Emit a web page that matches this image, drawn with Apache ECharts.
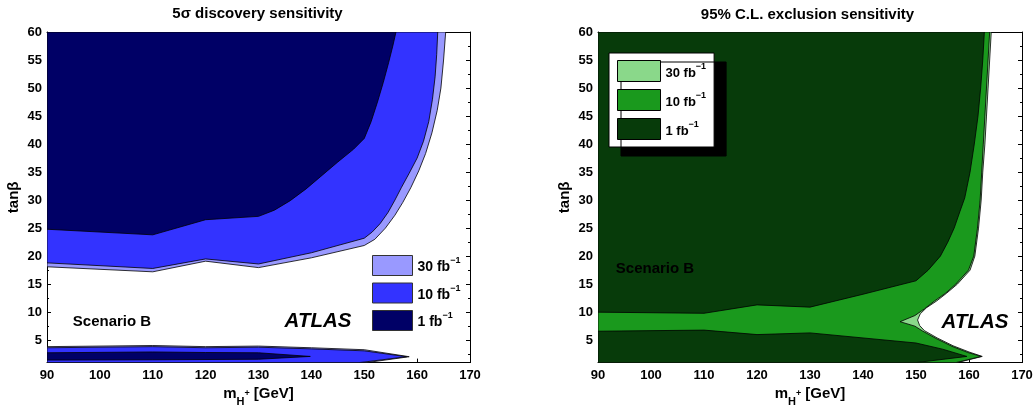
<!DOCTYPE html>
<html><head><meta charset="utf-8">
<script src="https://cdn.jsdelivr.net/npm/echarts@6/dist/echarts.min.js"></script>
<style>html,body{margin:0;padding:0;background:#fff}#c{width:1036px;height:412px}</style>
</head><body><div id="c"></div>
<script>
// ---------- data ----------
const lumiLabels = ['30', '10', '1'];
const xTicks = [90, 100, 110, 120, 130, 140, 150, 160, 170];
const yTicks = [5, 10, 15, 20, 25, 30, 35, 40, 45, 50, 55, 60];
const yMinorTicks = [2.5, 7.5, 12.5, 17.5, 22.5, 27.5, 32.5, 37.5, 42.5, 47.5, 52.5, 57.5];

// 5 sigma discovery contours [mH+, tanBeta]
const discUpper30 = [[90,60],[90,18.1],[110,17.2],[120,19.1],[130,17.95],[140,19.7],[150,21.9],[152,23],[154,25],[155.8,27.3],[157.3,29.6],[158.8,32.2],[160.3,35.2],[161.6,38.3],[162.8,42],[163.8,46],[164.5,50],[165,55],[165.4,60]];
const discUpper10 = [[90,60],[90,18.8],[110,17.8],[120,19.5],[130,18.6],[140,20.6],[150,23.2],[151.5,24.3],[153,25.8],[154.5,27.8],[155.8,30],[157,32.2],[158.5,34.8],[160,37.5],[161.2,40.5],[162.2,44],[162.9,48],[163.4,52],[163.7,56],[163.9,60]];
const discUpper1 = [[90,60],[90,24.8],[110,23.8],[120,26.5],[130,27.1],[133,28.2],[136,29.9],[139,32],[142,34.4],[145,36.8],[148,39.1],[150,41],[151.3,44],[152.5,47.5],[153.6,51],[154.6,54.5],[155.4,57.5],[156,60]];
const discLower30 = [[90,1],[90,3.85],[110,4.05],[120,3.85],[130,3.95],[140,3.65],[150,3.3],[158.5,2.05],[150.5,1]];
const discLower10 = [[90,1],[90,3.65],[110,3.85],[120,3.65],[130,3.75],[140,3.45],[150,3.1],[158,2.05],[150,1.1],[149,1]];
const discLower1 = [[90,1.45],[90,2.75],[110,2.9],[120,2.8],[130,2.75],[139.8,2.1],[130,1.6],[110,1.5]];

// 95% CL exclusion contours [mH+, tanBeta]
const exclRegion30 = [[90,1],[90,60],[164.2,60],[163.9,55],[163.6,50],[163.3,45],[163,40],[162.6,35],[162.3,30],[161.8,25],[161.1,20],[160.2,17.5],[157.8,15],[155.8,13.4],[153.9,12],[152,10.8],[150.8,9.7],[150.3,8.6],[150.7,7.6],[151.6,6.7],[154,5.4],[157,4],[160,2.9],[162.5,2.1],[157.8,1]];
const exclRegion10 = [[90,1],[90,60],[163.9,60],[163.6,55],[163.3,50],[163,45],[162.7,40],[162.4,35],[162.1,30],[161.6,25],[160.9,20],[159.9,17.5],[157.5,15],[155.6,13.4],[153.5,12],[151.6,10.6],[149.8,9.4],[147,8.3],[149.8,7.5],[151.3,6.6],[153.8,5.3],[156.8,3.9],[159.8,2.8],[162.3,2.1],[157.5,1]];
const exclUpper1 = [[90,60],[90,10],[110,9.8],[120,11.3],[130,10.9],[140,13.2],[150,15.6],[152.3,17.5],[154.6,20],[156,22.5],[157.2,25],[158.3,28],[159.2,30.4],[160.2,35],[161,40],[161.7,45],[162.2,50],[162.6,55],[162.9,60]];
const exclLower1 = [[90,1],[90,6.6],[110,6.8],[120,6.0],[130,6.3],[140,5.4],[150,4.5],[155,3.4],[159.6,2.1],[150,1]];

// ---------- chart ----------
const FONT = '"Liberation Sans", Arial, Helvetica, sans-serif';
const chart = echarts.init(document.getElementById('c'), null, {renderer: 'canvas'});

const discColors = ['#9999ff', '#3333ff', '#000066'];
const exclColors = ['#8ad88a', '#1a991d', '#073b0a'];
const discNames = lumiLabels.map(l => 'disc ' + l);
const exclNames = lumiLabels.map(l => 'excl ' + l);

function polySeries(name, polys, color, xi, yi) {
  const pts = [].concat(...polys);
  return {
    type: 'custom', name, xAxisIndex: xi, yAxisIndex: yi, silent: true, animation: false, clip: true,
    itemStyle: {color},
    encode: {x: 0, y: 1},
    data: pts,
    renderItem(params, api) {
      if (params.dataIndex !== 0) return;
      return {
        type: 'group',
        children: polys.map(poly => ({
          type: 'polygon',
          shape: {points: poly.map(p => api.coord(p))},
          style: {fill: color, stroke: '#000', lineWidth: 0.8}
        }))
      };
    }
  };
}

const axLine = {show: true, onZero: false, lineStyle: {color: '#000', width: 1}};
const xName = '{m|m}{s|H}{p|+}{m| [GeV]}';

function xAxes(g) {
  return [
    {gridIndex: g, type: 'value', min: 90, max: 170, position: 'bottom',
     axisLine: axLine,
     axisTick: {show: true, inside: true, length: 4, customValues: xTicks, lineStyle: {color: '#000'}},
     axisLabel: {customValues: xTicks, color: '#000', fontFamily: FONT, fontWeight: 'bold', fontSize: 13, margin: 6},
     splitLine: {show: false},
     name: xName, nameLocation: 'middle', nameGap: 15,
     nameTextStyle: {color: '#000', fontFamily: FONT, rich: {
       m: {fontSize: 15, fontWeight: 'bold', fontFamily: FONT, color: '#000', lineHeight: 26, verticalAlign: 'middle'},
       s: {fontSize: 11, fontWeight: 'bold', fontFamily: FONT, color: '#000', lineHeight: 12, verticalAlign: 'bottom'},
       p: {fontSize: 9, fontWeight: 'bold', fontFamily: FONT, color: '#000', lineHeight: 10, verticalAlign: 'middle'}
     }}},
    {gridIndex: g, type: 'value', min: 90, max: 170, position: 'top',
     axisLine: axLine,
     axisTick: {show: true, inside: true, length: 4, customValues: xTicks, lineStyle: {color: '#000'}},
     axisLabel: {show: false}, splitLine: {show: false}}
  ];
}

function yAxes(g) {
  const base = {gridIndex: g, type: 'value', min: 1, max: 60, splitLine: {show: false}, offset: 0};
  return [
    Object.assign({}, base, {position: 'left', axisLine: axLine,
      axisTick: {show: true, inside: true, length: 4, customValues: yTicks, lineStyle: {color: '#000'}},
      axisLabel: {customValues: yTicks, color: '#000', fontFamily: FONT, fontWeight: 'bold', fontSize: 13, margin: 5},
      name: 'tanβ', nameLocation: 'middle', nameRotate: 90, nameGap: 26,
      nameTextStyle: {color: '#000', fontFamily: FONT, fontWeight: 'bold', fontSize: 15}}),
    Object.assign({}, base, {position: 'left', axisLine: {show: false},
      axisTick: {show: true, inside: true, length: 2, customValues: yMinorTicks, lineStyle: {color: '#000'}},
      axisLabel: {show: false}}),
    Object.assign({}, base, {position: 'right', axisLine: axLine,
      axisTick: {show: true, inside: true, length: 4, customValues: yTicks, lineStyle: {color: '#000'}},
      axisLabel: {show: false}}),
    Object.assign({}, base, {position: 'right', axisLine: {show: false},
      axisTick: {show: true, inside: true, length: 2, customValues: yMinorTicks, lineStyle: {color: '#000'}},
      axisLabel: {show: false}})
  ];
}

function legendFmt(name) {
  const l = name.split(' ')[1];
  return '{a|' + l + ' fb}{b|−1}';
}
function legendRich(fs) {
  return {
    a: {fontSize: fs, fontWeight: 'bold', fontFamily: FONT, color: '#000', lineHeight: 18, verticalAlign: 'bottom'},
    b: {fontSize: 9, fontWeight: 'bold', fontFamily: FONT, color: '#000', lineHeight: 10, verticalAlign: 'top'}
  };
}

const textStyleBase = {fill: '#000', align: 'center', verticalAlign: 'middle'};

const option = {
  backgroundColor: '#fff',
  animation: false,
  grid: [
    {left: 47, top: 32, width: 423, height: 333},
    {left: 598, top: 32, width: 424, height: 333}
  ],
  xAxis: [...xAxes(0), ...xAxes(1)],
  yAxis: [...yAxes(0), ...yAxes(1)],
  legend: [
    {data: discNames, orient: 'vertical', left: 372, top: 255, padding: 0,
     icon: 'rect', itemWidth: 40, itemHeight: 20, itemGap: 6.5, selectedMode: false,
     itemStyle: {borderColor: '#333', borderWidth: 1},
     formatter: legendFmt, textStyle: {fontFamily: FONT, fontWeight: 'bold', fontSize: 14, color: '#000', rich: legendRich(14)}},
    {data: exclNames, orient: 'vertical', left: 609, top: 53, padding: [7, 8, 7, 8],
     icon: 'rect', itemWidth: 43, itemHeight: 21, itemGap: 7, selectedMode: false,
     backgroundColor: '#fff', borderColor: '#000', borderWidth: 1,
     shadowColor: '#000', shadowOffsetX: 12, shadowOffsetY: 9, shadowBlur: 0,
     itemStyle: {borderColor: '#000', borderWidth: 1},
     formatter: legendFmt, textStyle: {fontFamily: FONT, fontWeight: 'bold', fontSize: 13, color: '#000', rich: legendRich(13)}}
  ],
  graphic: [
    {type: 'text', x: 257.5, y: 14, style: Object.assign({}, textStyleBase, {text: '5σ discovery sensitivity', font: 'bold 15px ' + FONT})},
    {type: 'text', x: 807.5, y: 15, style: Object.assign({}, textStyleBase, {text: '95% C.L. exclusion sensitivity', font: 'bold 15px ' + FONT})},
    {type: 'text', x: 112, y: 322, z: 10, style: Object.assign({}, textStyleBase, {text: 'Scenario B', font: 'bold 15px ' + FONT})},
    {type: 'text', x: 318, y: 321, z: 10, style: Object.assign({}, textStyleBase, {text: 'ATLAS', font: 'italic bold 20.5px ' + FONT})},
    {type: 'text', x: 655, y: 269, z: 10, style: Object.assign({}, textStyleBase, {text: 'Scenario B', font: 'bold 15px ' + FONT})},
    {type: 'text', x: 975, y: 322, z: 10, style: Object.assign({}, textStyleBase, {text: 'ATLAS', font: 'italic bold 20.5px ' + FONT})}
  ],
  series: [
    polySeries(discNames[0], [discUpper30, discLower30], discColors[0], 0, 0),
    polySeries(discNames[1], [discUpper10, discLower10], discColors[1], 0, 0),
    polySeries(discNames[2], [discUpper1, discLower1], discColors[2], 0, 0),
    polySeries(exclNames[0], [exclRegion30], exclColors[0], 2, 4),
    polySeries(exclNames[1], [exclRegion10], exclColors[1], 2, 4),
    polySeries(exclNames[2], [exclUpper1, exclLower1], exclColors[2], 2, 4)
  ]
};
chart.setOption(option);
</script>
</body></html>
